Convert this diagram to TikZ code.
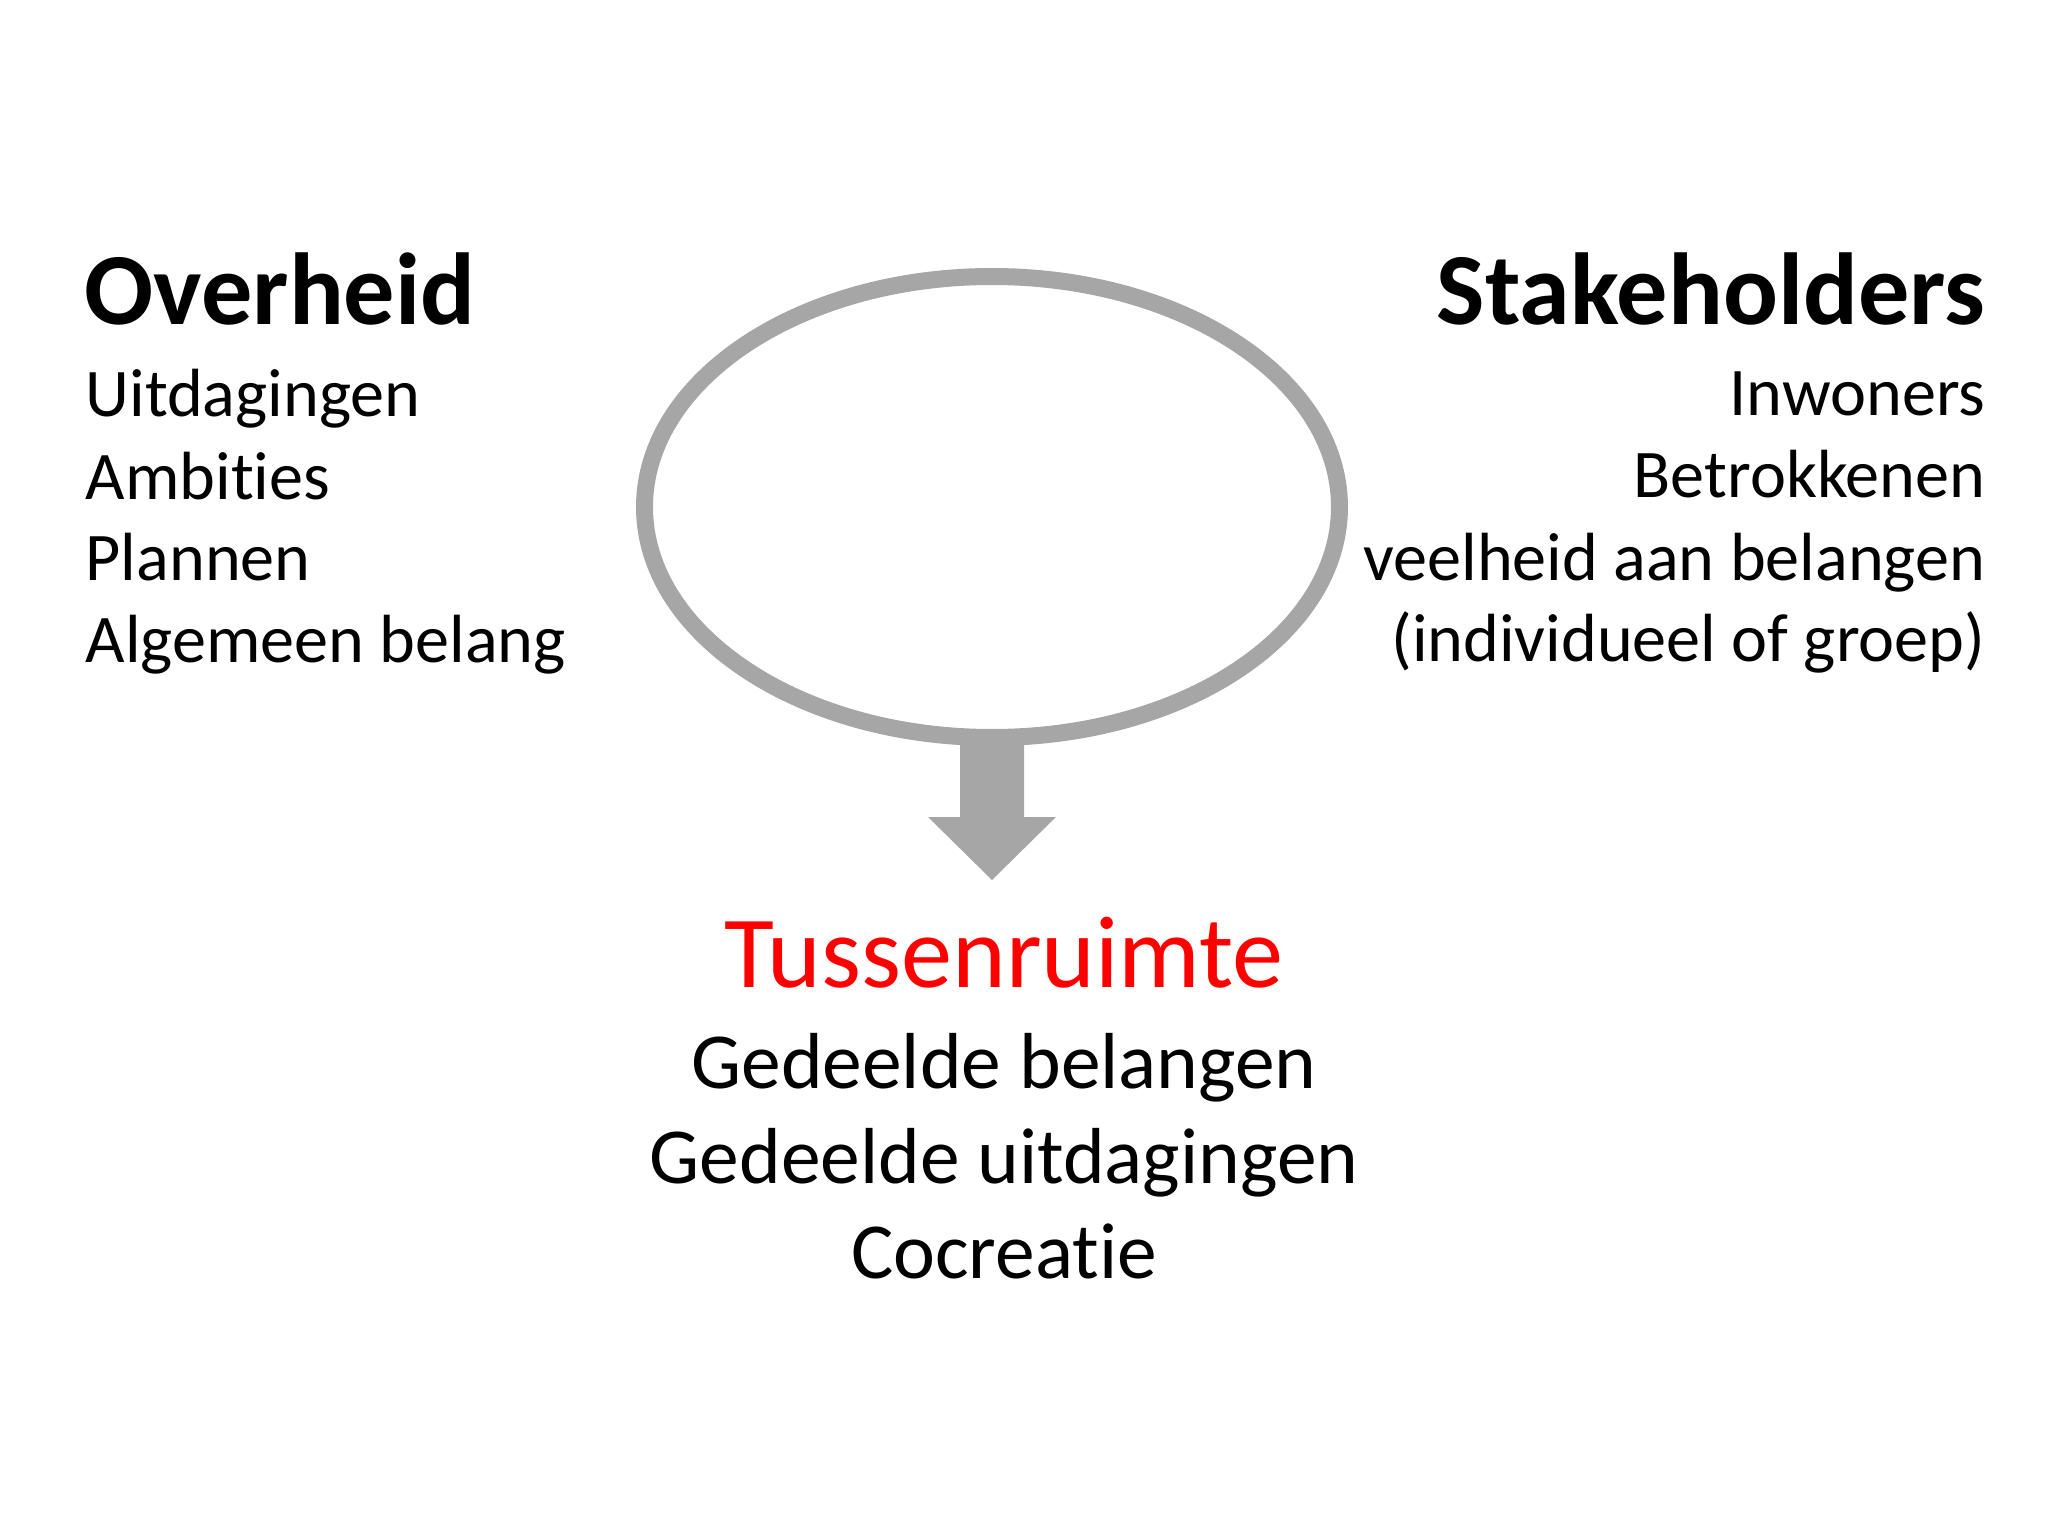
\documentclass[tikz,border=0pt]{standalone}
\usepackage{fontspec}
\setmainfont{Carlito}[Ligatures=NoCommon]
\usepackage{xcolor}
\usepackage{tikz}
\usetikzlibrary{calc}
\usetikzlibrary{shapes.geometric}

\definecolor{ringgrey}{HTML}{A6A6A6}
\definecolor{slidered}{HTML}{FF0000}

\tikzset{
    heading/.style={inner sep=0, font=\fontsize{29.1}{35}\selectfont\bfseries},
    item/.style={inner sep=0, font=\fontsize{19.4}{23.3}\selectfont},
    middle/.style={inner sep=0, font=\fontsize{22.6}{27}\selectfont, anchor=base},
    ring/.style={ellipse, draw=ringgrey, line width=0.17cm, inner sep=0,
        minimum width=6.95cm, minimum height=4.61cm}
}

\begin{document}
\begin{tikzpicture}
\useasboundingbox (0,0) rectangle (20.48,-15.36);

\node[heading, anchor=base west] (overheid) at (0.84,-3.25) {Overheid};
\node[item, anchor=base west] (o1) at (0.85,-4.17) {Uitdagingen};
\node[item, anchor=base west] (o2) at (0.85,-4.99) {Ambities};
\node[item, anchor=base west] (o3) at (0.85,-5.81) {Plannen};
\node[item, anchor=base west] (o4) at (0.85,-6.63) {Algemeen belang};

\node[heading, anchor=base east] (stakeholders) at (19.86,-3.25) {Stakeholders};
\node[item, anchor=base east] (s1) at (19.86,-4.16) {Inwoners};
\node[item, anchor=base east] (s2) at (19.86,-4.98) {Betrokkenen};
\node[item, anchor=base east] (s3) at (19.86,-5.80) {veelheid aan belangen};
\node[item, anchor=base east] (s4) at (19.86,-6.62) {(individueel of groep)};

\node[ring] (ring) at (9.92,-5.07) {};

\coordinate (tip) at ($(ring.south)+(0,-1.34)$);
\fill[ringgrey] ($(ring.south)+(-0.32,0.05)$) -- ($(ring.south)+(-0.32,-0.71)$)
    -- ($(ring.south)+(-0.64,-0.71)$) -- (tip) -- ($(ring.south)+(0.64,-0.71)$)
    -- ($(ring.south)+(0.32,-0.71)$) -- ($(ring.south)+(0.32,0.05)$) -- cycle;

\node[middle, font=\fontsize{29.1}{35}\selectfont, text=slidered] (tussen) at (10.04,-9.87) {Tussenruimte};
\node[middle] (m1) at (10.04,-10.88) {Gedeelde belangen};
\node[middle] (m2) at (10.04,-11.83) {Gedeelde uitdagingen};
\node[middle] (m3) at (10.04,-12.78) {Cocreatie};
\end{tikzpicture}
\end{document}
